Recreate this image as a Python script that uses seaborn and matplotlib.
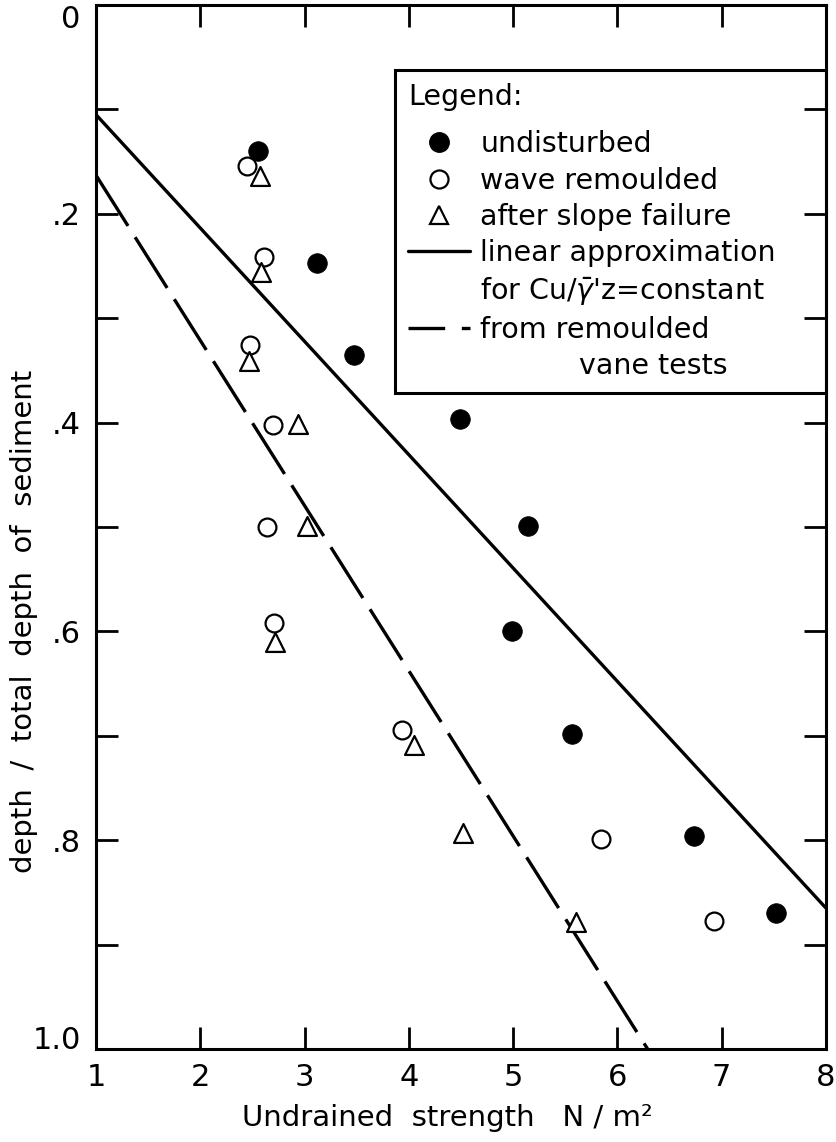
import numpy as np
import pandas as pd
import matplotlib
matplotlib.use("Agg")
import matplotlib.pyplot as plt
import seaborn as sns
from matplotlib.lines import Line2D

# ---------------- data ----------------
undisturbed_x = [2.55, 3.12, 3.47, 4.49, 5.14, 4.99, 5.56, 6.73, 7.52]
undisturbed_y = [0.140, 0.247, 0.335, 0.397, 0.499, 0.600, 0.698, 0.796, 0.870]

wave_x = [2.45, 2.61, 2.48, 2.70, 2.64, 2.71, 3.93, 5.84, 6.93]
wave_y = [0.154, 0.241, 0.326, 0.402, 0.500, 0.592, 0.694, 0.799, 0.877]

slope_x = [2.57, 2.58, 2.47, 2.94, 3.02, 2.72, 4.05, 4.52, 5.60]
slope_y = [0.164, 0.256, 0.341, 0.401, 0.499, 0.610, 0.709, 0.793, 0.878]

linear_x = [1.0, 8.0]
linear_y = [0.105, 0.865]

vane_x = [1.0, 6.29]
vane_y = [0.163, 1.0]

x_ticks = [1, 2, 3, 4, 5, 6, 7, 8]
x_ticklabels = ["1", "2", "3", "4", "5", "6", "7", "8"]
y_major = [0.0, 0.2, 0.4, 0.6, 0.8, 1.0]
y_ticklabels = ["0", ".2", ".4", ".6", ".8", "1.0"]
y_minor = [0.1, 0.3, 0.5, 0.7, 0.9]

legend_labels = [
    "undisturbed",
    "wave remoulded",
    "after slope failure",
    "linear approximation",
    r"for Cu/$\bar{\gamma}$'z=constant",
    "from remoulded",
    "           vane tests",
]

# ---------------- style ----------------
sns.set_style("white")
plt.rcParams["font.family"] = ["DejaVu Sans"]
plt.rcParams["mathtext.fontset"] = "dejavusans"
plt.rcParams["text.color"] = "black"
plt.rcParams["axes.labelcolor"] = "black"
plt.rcParams["xtick.color"] = "black"
plt.rcParams["ytick.color"] = "black"

fig = plt.figure(figsize=(8.36, 11.42), dpi=100)
ax = fig.add_axes([0.1148, 0.0814, 0.8732, 0.9142])

# lines
sns.lineplot(x=linear_x, y=linear_y, ax=ax, color="black", lw=2.4,
             solid_capstyle="butt", errorbar=None, zorder=2)
sns.lineplot(x=vane_x, y=vane_y, ax=ax, color="black", lw=2.4,
             linestyle=(0, (18, 4)), dash_capstyle="butt", errorbar=None, zorder=2)

# points
sns.scatterplot(x=undisturbed_x, y=undisturbed_y, ax=ax, marker="o", s=200,
                facecolor="black", edgecolor="black", linewidth=0.5, zorder=3)
sns.scatterplot(x=wave_x, y=wave_y, ax=ax, marker="o", s=165,
                facecolor="white", edgecolor="black", linewidth=1.6, zorder=3)
sns.scatterplot(x=slope_x, y=slope_y, ax=ax, marker="^", s=185,
                facecolor="white", edgecolor="black", linewidth=1.6, zorder=3)

# axes
ax.set_xlim(1, 8)
ax.set_ylim(1.0, 0.0)
ax.set_xticks(x_ticks)
ax.set_xticklabels(x_ticklabels)
ax.set_yticks(y_major)
ax.set_yticklabels(y_ticklabels)
ax.set_yticks(y_minor, minor=True)

for sp in ax.spines.values():
    sp.set_linewidth(2.2)
    sp.set_color("black")
    sp.set_zorder(6)

# legend (drawn inside the main axes)
handles = [
    Line2D([], [], ls="none", marker="o", ms=14, mfc="black", mec="black"),
    Line2D([], [], ls="none", marker="o", ms=13, mfc="white", mec="black", mew=1.6),
    Line2D([], [], ls="none", marker="^", ms=13.5, mfc="white", mec="black", mew=1.6),
    Line2D([], [], color="black", lw=2.4),
    Line2D([], [], ls="none"),
    Line2D([], [], color="black", lw=2.4, ls=(0, (11, 5))),
    Line2D([], [], ls="none"),
]
leg = ax.legend(handles, legend_labels, loc="upper left",
                bbox_to_anchor=(0.4096, 0.55, 0.5904, 0.3877), mode="expand",
                borderaxespad=0, frameon=True, fancybox=False, framealpha=1,
                facecolor="white", edgecolor="black", fontsize=20.5,
                title="Legend:", title_fontsize=20.5, alignment="left",
                handlelength=2.2, handletextpad=0.35, labelspacing=0.29,
                borderpad=0.45)
leg.get_frame().set_linewidth(2.2)
leg._legend_box.sep = 14

# right-hand ticks on a twin axis so they sit on top of the legend box
ax2 = ax.twinx()
ax2.set_ylim(1.0, 0.0)
ax2.set_yticks(y_major)
ax2.set_yticks(y_minor, minor=True)
for sp in ax2.spines.values():
    sp.set_visible(False)
ax2.tick_params(axis="y", which="both", direction="in", length=16, width=2.0,
                right=True, left=False, labelright=False, labelleft=False,
                colors="black")

ax.tick_params(axis="both", which="both", direction="in", length=16, width=2.0,
               top=True, right=False, bottom=True, left=True, colors="black")
ax.tick_params(axis="x", which="major", labelsize=22, pad=10)
ax.tick_params(axis="y", which="major", labelsize=22, pad=11)

ylabs = ax.get_yticklabels()
ylabs[0].set_verticalalignment("top")
ylabs[-1].set_verticalalignment("baseline")

ax.set_xlabel("Undrained  strength   N / m\u00b2", fontsize=21)
ax.xaxis.set_label_coords(0.482, -0.053)
ax.set_ylabel("depth  /  total  depth  of  sediment", fontsize=21)
ax.yaxis.set_label_coords(-0.080, 0.410)

fig.savefig("out.png", dpi=100, facecolor="white")
